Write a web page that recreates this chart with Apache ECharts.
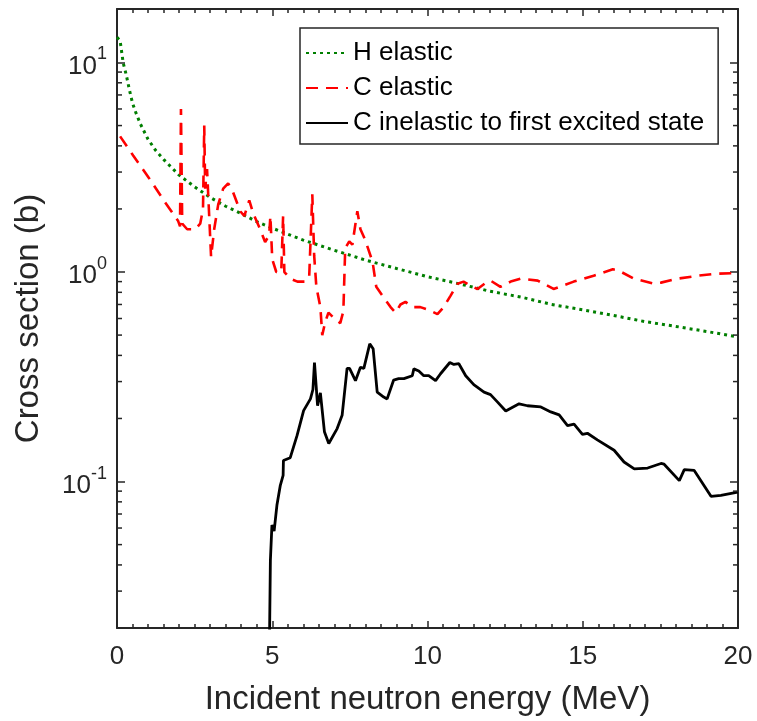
<!DOCTYPE html>
<html>
<head>
<meta charset="utf-8">
<script src="https://cdn.jsdelivr.net/npm/echarts@6/dist/echarts.min.js"></script>
<style>
  html, body { margin: 0; padding: 0; background: #fff; }
  #chart { width: 757px; height: 721px; }
</style>
</head>
<body>
<div id="chart"></div>
<script>
// Neutron cross sections vs incident energy
const seriesNames = ['H elastic', 'C elastic', 'C inelastic to first excited state'];

const xMin = 0, xMax = 20, xStep = 5;
const yMin = 0.02, yMax = 18;
const yMinorTicks = [0.03, 0.04, 0.05, 0.06, 0.07, 0.08, 0.09,
                     0.2, 0.3, 0.4, 0.5, 0.6, 0.7, 0.8, 0.9,
                     2, 3, 4, 5, 6, 7, 8, 9];

// [energy MeV, cross section b]
const hElastic = [
  [0, 13.2], [0.1, 12.7], [0.2, 9.95], [0.3, 8.7], [0.4, 7.4], [0.5, 6.4], [0.6, 5.8],
  [0.75, 5.1], [1, 4.3], [1.25, 3.8], [1.5, 3.45], [2, 2.9], [2.5, 2.55], [3, 2.27],
  [3.5, 2.06], [4, 1.9], [4.5, 1.74], [5, 1.62], [6, 1.42], [7, 1.27], [8, 1.14],
  [9, 1.04], [10, 0.95], [11, 0.88], [12, 0.81], [13, 0.76], [14, 0.7], [15, 0.66],
  [16, 0.62], [17, 0.58], [18, 0.55], [19, 0.52], [20, 0.49]
];

const cElastic = [
  [0.1, 4.44], [0.52, 3.6], [1.0, 2.85], [1.55, 2.15], [1.97, 1.75], [2.03, 1.65],
  [2.06, 6.0], [2.1, 1.7], [2.26, 1.6], [2.52, 1.6], [2.68, 1.7], [2.77, 2.0],
  [2.81, 5.0], [2.84, 2.5], [2.9, 3.1], [2.94, 2.3], [3.03, 1.18], [3.13, 1.6],
  [3.26, 2.1], [3.42, 2.5], [3.58, 2.65], [3.74, 2.4], [3.97, 1.95], [4.1, 1.85],
  [4.26, 2.2], [4.39, 1.9], [4.61, 1.6], [4.77, 1.39], [4.9, 1.5], [4.94, 1.85],
  [5.0, 1.15], [5.13, 1.0], [5.29, 1.0], [5.35, 1.85], [5.39, 1.0], [5.58, 0.93],
  [5.81, 0.9], [6.06, 0.9], [6.19, 0.95], [6.29, 2.35], [6.35, 1.2], [6.42, 0.85],
  [6.55, 0.68], [6.61, 0.5], [6.71, 0.58], [6.81, 0.64], [7.0, 0.6], [7.19, 0.57],
  [7.29, 0.65], [7.35, 1.3], [7.48, 1.4], [7.58, 1.35], [7.74, 1.95], [7.84, 1.6],
  [7.97, 1.45], [8.06, 1.33], [8.23, 1.12], [8.35, 0.85], [8.58, 0.76], [8.81, 0.68],
  [8.97, 0.64], [9.13, 0.7], [9.29, 0.72], [9.52, 0.68], [9.77, 0.68], [10.03, 0.66],
  [10.32, 0.63], [10.52, 0.68], [10.74, 0.77], [10.97, 0.88], [11.16, 0.9], [11.39, 0.86],
  [11.61, 0.83], [11.84, 0.88], [12.03, 0.91], [12.35, 0.85], [12.68, 0.9], [13.0, 0.93],
  [13.55, 0.91], [14.06, 0.83], [14.71, 0.9], [15.35, 0.96], [15.97, 1.03], [16.13, 1.02],
  [16.65, 0.93], [17.29, 0.88], [17.52, 0.89], [18.06, 0.93], [18.71, 0.96], [19.23, 0.98],
  [20.0, 0.99]
];

const cInelastic = [
  [4.87, 0.005], [4.94, 0.042], [4.99, 0.062], [5.06, 0.058], [5.15, 0.077], [5.26, 0.096],
  [5.35, 0.107], [5.36, 0.126], [5.58, 0.13], [5.8, 0.166], [6.01, 0.218], [6.23, 0.248],
  [6.31, 0.275], [6.36, 0.37], [6.46, 0.23], [6.55, 0.265], [6.68, 0.173], [6.82, 0.152],
  [7.09, 0.179], [7.25, 0.207], [7.41, 0.347], [7.49, 0.347], [7.68, 0.303], [7.84, 0.351],
  [7.95, 0.347], [8.14, 0.454], [8.25, 0.43], [8.38, 0.267], [8.59, 0.253], [8.7, 0.248],
  [8.91, 0.305], [9.07, 0.31], [9.24, 0.31], [9.51, 0.32], [9.56, 0.345], [9.72, 0.337],
  [9.88, 0.32], [10.04, 0.32], [10.26, 0.303], [10.42, 0.327], [10.72, 0.37], [10.85, 0.362],
  [11.01, 0.365], [11.23, 0.32], [11.49, 0.29], [11.82, 0.267], [12.03, 0.26], [12.25, 0.24],
  [12.52, 0.217], [12.95, 0.235], [13.22, 0.23], [13.65, 0.227], [13.97, 0.215], [14.24, 0.208],
  [14.51, 0.185], [14.72, 0.188], [14.99, 0.168], [15.15, 0.17], [15.47, 0.158], [16.01, 0.141],
  [16.33, 0.124], [16.66, 0.115], [17.09, 0.116], [17.52, 0.122], [17.62, 0.121], [18.11, 0.101],
  [18.27, 0.114], [18.59, 0.113], [19.13, 0.085], [19.45, 0.086], [19.99, 0.089]
];

const FONT = "'Liberation Sans', Arial, Helvetica, sans-serif";
const INK = '#262626';

const axisLineStyle = { color: INK, width: 2 };

function powerLabel(v) {
  const e = Math.log10(v);
  if (Math.abs(e - Math.round(e)) > 1e-6) return '';
  return '{b|10}{s|' + Math.round(e) + '}';
}

const xAxisBase = {
  type: 'value', min: xMin, max: xMax, interval: xStep,
  axisLine: { show: true, onZero: false, lineStyle: axisLineStyle },
  axisTick: { show: true, inside: true, length: 7, lineStyle: { color: INK, width: 1.5 } },
  minorTick: { show: true, splitNumber: 10, length: 4, lineStyle: { color: INK, width: 1.5 } },
  splitLine: { show: false }
};

const yAxisBase = {
  type: 'log', logBase: 10, min: yMin, max: yMax,
  axisLine: { show: true, onZero: false, lineStyle: axisLineStyle },
  axisTick: { show: true, inside: true, length: 8, lineStyle: { color: INK, width: 1.5 } },
  minorTick: { show: false },
  splitLine: { show: false }
};

const chart = echarts.init(document.getElementById('chart'), null, { renderer: 'canvas' });

chart.setOption({
  animation: false,
  backgroundColor: '#fff',
  textStyle: { fontFamily: FONT },
  grid: { left: 117, right: 19, top: 9, bottom: 91, containLabel: false },
  legend: {
    data: seriesNames,
    orient: 'vertical',
    left: 300, top: 28,
    itemWidth: 42, itemHeight: 14, itemGap: 9,
    padding: [12, 14, 8, 5],
    borderColor: INK, borderWidth: 1.5, backgroundColor: '#fff',
    selectedMode: false,
    itemStyle: { opacity: 0, borderWidth: 0 },
    textStyle: { fontSize: 26, color: '#000', fontFamily: FONT, lineHeight: 26 }
  },
  xAxis: [
    Object.assign({}, xAxisBase, {
      position: 'bottom',
      axisLabel: { show: true, fontSize: 26, color: INK, fontFamily: FONT, margin: 16 },
      name: 'Incident neutron energy (MeV)',
      nameLocation: 'middle', nameGap: 55,
      nameTextStyle: { fontSize: 33, color: INK, fontFamily: FONT }
    }),
    Object.assign({}, xAxisBase, { position: 'top', axisLabel: { show: false } })
  ],
  yAxis: [
    Object.assign({}, yAxisBase, {
      position: 'left',
      axisLabel: {
        show: true, margin: 10, color: INK, fontFamily: FONT,
        formatter: powerLabel,
        rich: {
          b: { fontSize: 26, color: INK, fontFamily: FONT, lineHeight: 34, verticalAlign: 'bottom' },
          s: { fontSize: 18, color: INK, fontFamily: FONT, lineHeight: 34, verticalAlign: 'top' }
        }
      },
      name: 'Cross section (b)',
      nameLocation: 'middle', nameGap: 72,
      nameTextStyle: { fontSize: 33, color: INK, fontFamily: FONT }
    }),
    Object.assign({}, yAxisBase, { position: 'right', axisLabel: { show: false } })
  ],
  series: [
    {
      name: seriesNames[0], type: 'line', xAxisIndex: 0, yAxisIndex: 0,
      data: hElastic, symbol: 'none', showSymbol: false, clip: true, z: 3,
      lineStyle: { color: '#007f00', width: 3, type: [3, 4] },
      itemStyle: { color: '#007f00' }
    },
    {
      name: seriesNames[1], type: 'line', xAxisIndex: 0, yAxisIndex: 0,
      data: cElastic, symbol: 'none', showSymbol: false, clip: true, z: 3,
      lineStyle: { color: '#ff0000', width: 2.6, type: [12, 8] },
      itemStyle: { color: '#ff0000' }
    },
    {
      name: seriesNames[2], type: 'line', xAxisIndex: 0, yAxisIndex: 0,
      data: cInelastic, symbol: 'none', showSymbol: false, clip: true, z: 3,
      lineStyle: { color: '#000', width: 2.8 },
      itemStyle: { color: '#000' }
    },
    {
      // minor ticks of the logarithmic y axis, on both the left and right sides
      type: 'custom', xAxisIndex: 0, yAxisIndex: 0, silent: true, z: 4,
      data: yMinorTicks.map(v => [xMin, v]),
      encode: { x: 0, y: 1 },
      renderItem: function (params, api) {
        const l = api.coord([xMin, api.value(1)]);
        const r = api.coord([xMax, api.value(1)]);
        const style = { stroke: INK, lineWidth: 1.5 };
        return {
          type: 'group',
          children: [
            { type: 'line', shape: { x1: l[0], y1: l[1], x2: l[0] + 5, y2: l[1] }, style: style },
            { type: 'line', shape: { x1: r[0], y1: r[1], x2: r[0] - 5, y2: r[1] }, style: style }
          ]
        };
      }
    }
  ]
});
</script>
</body>
</html>
